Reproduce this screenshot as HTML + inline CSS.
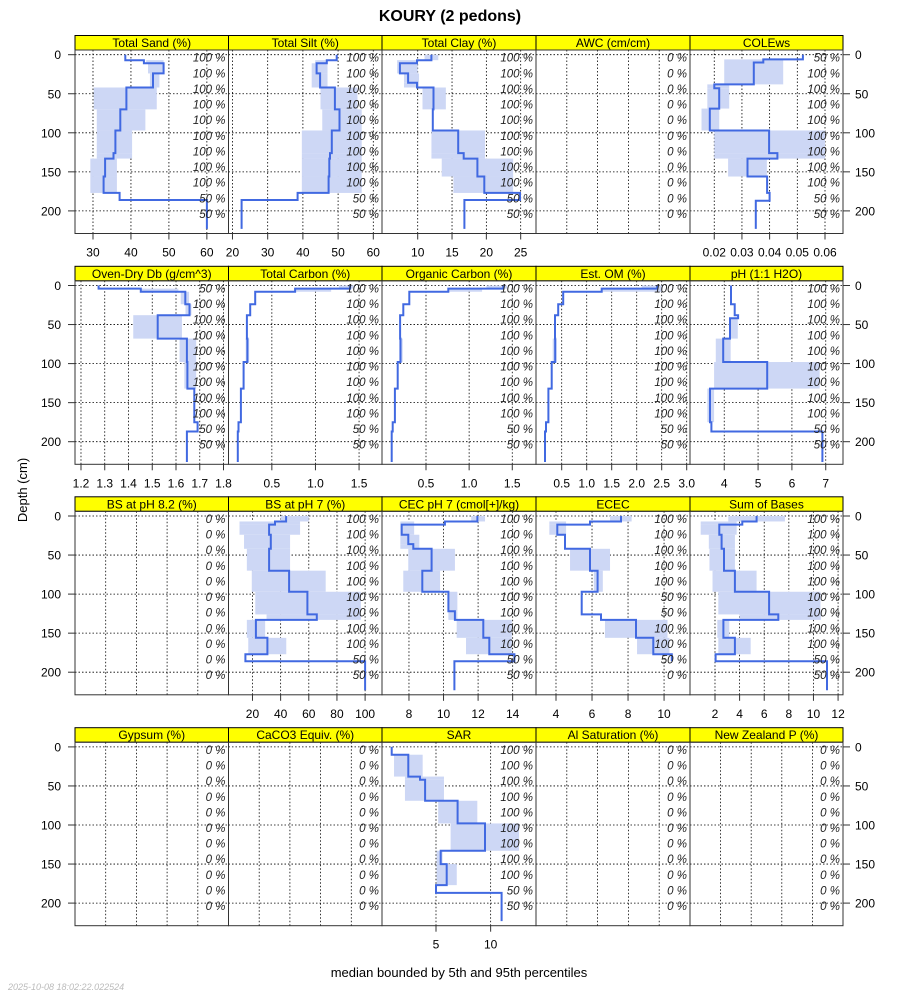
<!DOCTYPE html>
<html><head><meta charset="utf-8"><style>
html,body{margin:0;padding:0;background:#fff;}
svg text{font-family:"Liberation Sans",sans-serif;}
</style></head><body>
<svg id="c" xmlns="http://www.w3.org/2000/svg" width="900" height="1000" viewBox="0 0 900 1000">
<text x="450" y="21" text-anchor="middle" font-size="16" font-weight="bold">KOURY (2 pedons)</text>
<text x="27" y="490" text-anchor="middle" font-size="13" transform="rotate(-90 27 490)">Depth (cm)</text>
<text x="459" y="977" text-anchor="middle" font-size="13">median bounded by 5th and 95th percentiles</text>
<text x="8" y="990" font-size="9" font-style="italic" fill="#bbb">2025-10-08 18:02:22.022524</text>
</svg>
<script>
// ---- data ----
const panelTitles = ["Total Sand (%)","Total Silt (%)","Total Clay (%)","AWC (cm/cm)","COLEws",
"Oven-Dry Db (g/cm^3)","Total Carbon (%)","Organic Carbon (%)","Est. OM (%)","pH (1:1 H2O)",
"BS at pH 8.2 (%)","BS at pH 7 (%)","CEC pH 7 (cmol[+]/kg)","ECEC","Sum of Bases",
"Gypsum (%)","CaCO3 Equiv. (%)","SAR","Al Saturation (%)","New Zealand P (%)"];
const xMin = [25.26,18.87,4.8,0,0.01124, 1.1748,0.003,-0.01,-0.014,2.988, 0,2.97,6.44,2.89,-0.03, 0,0,0.06,0,0];
const xMax = [65.7,62.47,27.23,1,0.0665, 1.821,1.763,1.775,3.066,7.51, 1,112,15.35,11.44,12.4, 1,1,14.15,1,1];
const xTicks = [[30,40,50,60],[20,30,40,50,60],[10,15,20,25],[],[0.02,0.03,0.04,0.05,0.06],
[1.2,1.3,1.4,1.5,1.6,1.7,1.8],[0.5,1.0,1.5],[0.5,1.0,1.5],[0.5,1.0,1.5,2.0,2.5,3.0],[4,5,6,7],
[],[20,40,60,80,100],[8,10,12,14],[4,6,8,10],[2,4,6,8,10,12],
[],[],[5,10],[],[]];
const tickLabels = [["30","40","50","60"],["20","30","40","50","60"],["10","15","20","25"],[],["0.02","0.03","0.04","0.05","0.06"],
["1.2","1.3","1.4","1.5","1.6","1.7","1.8"],["0.5","1.0","1.5"],["0.5","1.0","1.5"],["0.5","1.0","1.5","2.0","2.5","3.0"],["4","5","6","7"],
[],["20","40","60","80","100"],["8","10","12","14"],["4","6","8","10"],["2","4","6","8","10","12"],
[],[],["5","10"],[],[]];
const depthsA = [0,7,11,24,42,70,97,126,133,156,177,186,223];
const depthsB = [0,4,8,24,38,68,98,132,175,187,226];
const depthsCole = [0,6,10,38,43,69,97,126,133,156,177,187,223];
const depthsSar = [0,10,38,42,69,98,133,150,177,187,223];
const panelDepths = [depthsA,depthsA,[0,7,11,24,36,42,70,97,126,133,156,177,186,223],null,depthsCole,
depthsB,depthsB,depthsB,depthsB,[0,24,38,42,68,98,132,175,187,226],
null,depthsA,[0,7,11,24,36,42,70,97,122,133,156,177,186,223],depthsA,depthsA,
null,null,depthsSar,null,null];
const panelMedian = [
[38.5,43.4,48.6,45.8,38.8,37.2,35.9,35.4,33.2,32.8,37,60],
[49.6,46.8,43.9,44.9,49.1,50.4,48.2,47.7,47.5,47.3,38.5,22.6],
[12,9.9,7.4,8.6,9.9,12.3,12.2,15.9,16.7,18.7,19.7,24.9,16.8],
null,
[0.052,0.0377,0.0343,0.02,0.0218,0.0184,0.0398,0.0428,0.032,0.0391,0.040,0.035],
[1.274,1.452,1.639,1.657,1.523,1.646,1.648,1.677,1.691,1.646],
[1.397,0.767,0.309,0.252,0.214,0.22,0.176,0.145,0.118,0.11],
[1.396,0.759,0.307,0.237,0.2,0.205,0.172,0.14,0.114,0.102],
[2.41,1.3,0.53,0.43,0.367,0.37,0.3,0.233,0.187,0.167],
[4.2,4.31,4.41,4.17,3.97,5.27,3.58,3.62,6.9],
null,
[43.9,36,31.8,33,31.8,46,59,65.7,22.4,30.6,15,100],
[11.96,10.08,7.58,7.96,8.25,9.31,8.77,10.28,10.66,12.3,12.65,14.1,10.63],
[7.61,5.89,4.07,4.5,5.89,6.31,5.43,6.5,8.44,9.4,10.43,null],
[5.38,4.22,2.35,2.54,2.73,3.62,6.4,7.14,2.68,3.62,2.05,11.1],
null,null,
[0.95,2.47,3.54,4.0,6.98,9.48,5.43,5.98,5,11],
null,null];
const panelLow = [
[null,44,44.5,45,30.2,31,31,31,29.3,29.3,null,null],
[null,43.5,42.5,42.5,45,45.5,39.7,39.7,39.7,39.7,null,null],
[11,7,7,8,8,10.7,null,12,12,13.5,15.2,null,null],
null,
[null,0.0236,0.0236,0.0175,0.0175,0.0154,0.02,0.02,0.025,null,null,null],
[null,1.45,1.62,1.64,1.42,1.615,1.635,null,null,null],
[1.27,0.77,null,null,null,0.2,null,null,null,null],
[1.2,0.75,null,null,null,0.19,null,null,null,null],
[2.1,1.3,null,null,null,0.32,null,null,null,null],
[null,null,null,4.15,3.75,3.7,3.5,null,null],
null,
[40,10.8,10.8,14,16,19.5,22,30,16,17,null,null],
[11.6,7.5,7.5,7.5,7.5,7.96,7.67,10.28,10.28,10.76,11.3,null,null],
[7,3.63,3.63,null,4.78,6.1,null,null,6.72,8.5,null,null],
[3.08,0.84,0.84,1.5,1.55,1.8,2.27,4.0,2.19,2.27,null,null],
null,null,
[null,1.16,2.16,2.16,5.2,6.34,5.06,5.06,null,null],
null,null];
const panelHigh = [
[null,48.6,48.6,47.5,46.8,43.8,40.3,40.3,36.3,36.3,null,null],
[null,47,47,47,55.5,56.7,56.7,56.7,56.7,56.7,null,null],
[13,10,10,10.2,10.2,14.1,null,19.8,19.8,23.9,23.9,null,null],
null,
[null,0.0449,0.0449,0.0254,0.0254,0.0218,0.06,0.06,0.039,null,null,null],
[null,1.61,1.655,1.665,1.625,1.685,1.685,null,null,null],
[1.44,1.18,null,null,null,0.24,null,null,null,null],
[1.44,1.15,null,null,null,0.23,null,null,null,null],
[2.5,2.5,null,null,null,0.4,null,null,null,null],
[null,null,null,4.4,4.19,6.82,3.7,null,null],
null,
[60,53.8,53.8,46.7,46.7,72,97,97,29,44,null,null],
[12.4,8.3,8.3,8.6,8.6,10.66,9.8,10.8,10.8,13.95,13.95,null,null],
[8.2,4.56,4.56,null,7,6.6,null,null,10.19,10.3,null,null],
[7.68,3.76,3.76,3.62,3.62,5.38,10.57,10.6,3.16,4.9,null,null],
null,null,
[null,3.78,5.73,5.73,8.78,12.6,5.6,6.9,null,null],
null,null];
const p100 = ["100 %","100 %","100 %","100 %","100 %","100 %","100 %","100 %","100 %","50 %","50 %"];
const p0 = ["0 %","0 %","0 %","0 %","0 %","0 %","0 %","0 %","0 %","0 %","0 %"];
const pctLabels = [p100,p100,p100,p0,["50 %","100 %","100 %","100 %","100 %","100 %","100 %","100 %","100 %","50 %","50 %"],
["50 %","100 %","100 %","100 %","100 %","100 %","100 %","100 %","100 %","50 %","50 %"],p100,p100,p100,p100,
p0,p100,p100,["100 %","100 %","100 %","100 %","100 %","50 %","50 %","100 %","100 %","50 %","0 %"],p100,
p0,p0,p100,p0,p0];
const depthTicks = [0,50,100,150,200];
const pctDepths = [0,20,40,60,80,100,120,140,160,180,200];

// ---- layout ----
const NS="http://www.w3.org/2000/svg";
const svg=document.getElementById('c');
const colEdges=[75,228.5,382,536,690,843];
const rowTop=[35.5,266.3,496.8,727.7];
const stripH=14.5, zeroOff=19.2, pxcm=0.781, panelH=198;
function mk(tag,attrs,parent){const e=document.createElementNS(NS,tag);for(const k in attrs)e.setAttribute(k,attrs[k]);(parent||svg).appendChild(e);return e;}

for(let p=0;p<20;p++){
  const r=Math.floor(p/5), c=p%5;
  const L=colEdges[c], R=colEdges[c+1], T=rowTop[r];
  const PT=T+stripH, PB=T+panelH, y0=T+zeroOff;
  const xs=v=>L+(v-xMin[p])/(xMax[p]-xMin[p])*(R-L);
  const ys=d=>y0+d*pxcm;
  const g=mk('g',{});
  
  
  const strip=mk('rect',{x:L,y:T,width:R-L,height:stripH,fill:'#ffff00',stroke:'#000','stroke-width':1},g);
  
  
  const st=mk('text',{x:(L+R)/2,y:T+11.5,'text-anchor':'middle','font-size':12},g);
  st.textContent=panelTitles[p];
  
  
  const gx = xTicks[p].length? xTicks[p] : [0.2,0.4,0.6,0.8];
  gx.forEach(v=>{const ln=mk('line',{x1:xs(v),x2:xs(v),y1:PT,y2:PB,stroke:'#000','stroke-width':0.8,'stroke-dasharray':'1.5,2'},g);
    });
  depthTicks.forEach(d=>{const ln=mk('line',{x1:L,x2:R,y1:ys(d),y2:ys(d),stroke:'#000','stroke-width':0.8,'stroke-dasharray':'1.5,2'},g);
    });
  const D=panelDepths[p];
  if(D){
    const md=panelMedian[p], lo=panelLow[p], hi=panelHigh[p];
    for(let i=0;i<md.length;i++){
      if(lo[i]!=null&&hi[i]!=null){
        const b=mk('rect',{x:xs(lo[i]),y:ys(D[i]),width:xs(hi[i])-xs(lo[i]),height:ys(D[i+1])-ys(D[i]),fill:'#cdd7f5'},g);
        
        
      }
    }
    let dstr='';
    for(let i=0;i<md.length;i++){
      if(md[i]==null) break;
      dstr+=(i===0?'M':'L')+xs(md[i]).toFixed(1)+','+ys(D[i]).toFixed(1)+'L'+xs(md[i]).toFixed(1)+','+ys(D[i+1]).toFixed(1);
    }
    const ml=mk('path',{d:dstr,fill:'none',stroke:'#4169e1','stroke-width':2},g);
    
    
  }
  pctLabels[p].forEach((s,i)=>{const t=mk('text',{x:R-3,y:ys(pctDepths[i])+7,'text-anchor':'end','font-size':11.5,'font-style':'italic',fill:'#222'},g);
    t.textContent=s;});
  const fr=mk('rect',{x:L,y:PT,width:R-L,height:PB-PT,fill:'none',stroke:'#333','stroke-width':1},g);
  
  
  xTicks[p].forEach((v,i)=>{
    const tk=mk('line',{x1:xs(v),x2:xs(v),y1:PB,y2:PB+6,stroke:'#333'},g);
    
    const t=mk('text',{x:xs(v),y:PB+23,'text-anchor':'middle','font-size':12},g);
    t.textContent=tickLabels[p][i];
  });
  if(c===0||c===4){
    depthTicks.forEach(d=>{
      const left=c===0;
      const tk=mk('line',{x1:left?L-7:R,x2:left?L:R+7,y1:ys(d),y2:ys(d),stroke:'#333'},g);
      
      const t=mk('text',{x:left?L-14:R+12,y:ys(d)+4.5,'text-anchor':left?'end':'start','font-size':12},g);
      t.textContent=String(d);
    });
  }
}
</script>
</body></html>
